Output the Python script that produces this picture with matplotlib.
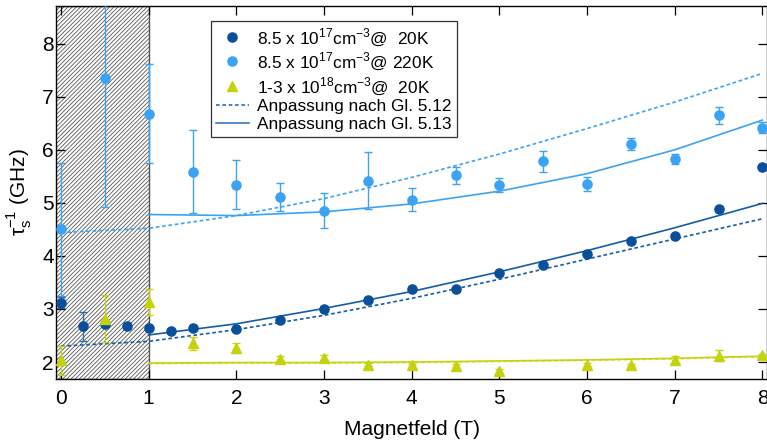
import matplotlib
matplotlib.use("Agg")
import matplotlib.pyplot as plt
from matplotlib.lines import Line2D

plt.rcParams["font.family"] = ["Liberation Sans", "DejaVu Sans"]
plt.rcParams["hatch.linewidth"] = 0.6

# measured data (spin relaxation rate in GHz vs magnetic field in T)
x_20k = [0, 0.25, 0.5, 0.75, 1, 1.25, 1.5, 2, 2.5, 3, 3.5, 4, 4.5, 5, 5.5, 6, 6.5, 7, 7.5, 8]
y_20k = [3.12, 2.67, 2.71, 2.68, 2.64, 2.59, 2.64, 2.63, 2.79, 3.0, 3.17, 3.37, 3.37, 3.68,
         3.82, 4.04, 4.29, 4.38, 4.88, 5.67]
e_20k = [0.11, 0.27, 0.03, 0.03, 0.03, 0.03, 0.03, 0.03, 0.03, 0.03, 0.03, 0.03, 0.03, 0.03,
         0.03, 0.03, 0.03, 0.03, 0.03, 0.03]

x_220k = [0, 0.5, 1, 1.5, 2, 2.5, 3, 3.5, 4, 4.5, 5, 5.5, 6, 6.5, 7, 7.5, 8]
y_220k = [4.5, 7.35, 6.68, 5.59, 5.34, 5.11, 4.85, 5.42, 5.06, 5.52, 5.33, 5.78, 5.36, 6.11,
          5.83, 6.65, 6.42]
e_220k = [1.26, 2.42, 0.93, 0.78, 0.46, 0.27, 0.33, 0.53, 0.22, 0.16, 0.13, 0.2, 0.13, 0.12,
          0.09, 0.16, 0.1]

x_hi = [0, 0.5, 1, 1.5, 2, 2.5, 3, 3.5, 4, 4.5, 5, 6, 6.5, 7, 7.5, 8]
y_hi = [2.03, 2.82, 3.13, 2.35, 2.26, 2.06, 2.08, 1.95, 1.94, 1.93, 1.83, 1.95, 1.94, 2.04,
        2.12, 2.13]
e_hi = [0.27, 0.45, 0.25, 0.13, 0.09, 0.05, 0.05, 0.03, 0.03, 0.03, 0.03, 0.03, 0.03, 0.07,
        0.1, 0.03]

# fit curves
fit512_x = [0, 1, 2, 3, 4, 5, 6, 7, 8]
fit512_20k = [2.3, 2.39, 2.61, 2.88, 3.2, 3.56, 3.94, 4.32, 4.70]
fit512_220k = [4.44, 4.52, 4.76, 5.08, 5.48, 5.92, 6.4, 6.9, 7.44]

fit513_x = [1, 2, 3, 4, 5, 6, 7, 8]
fit513_20k = [2.51, 2.72, 3.01, 3.33, 3.70, 4.10, 4.53, 4.99]
fit513_220k = [4.78, 4.76, 4.83, 4.98, 5.22, 5.55, 6.0, 6.56]
fit513_hi = [1.98, 1.99, 1.99, 2.0, 2.02, 2.04, 2.07, 2.11]
fit512_hi = [1.97, 1.98, 1.98, 1.99, 2.01, 2.03, 2.06, 2.10]

labels = [
    r"8.5 x 10$^{\mathregular{17}}$cm$^{\mathregular{-3}}$@  20K",
    r"8.5 x 10$^{\mathregular{17}}$cm$^{\mathregular{-3}}$@ 220K",
    r"1-3 x 10$^{\mathregular{18}}$cm$^{\mathregular{-3}}$@  20K",
    "Anpassung nach Gl. 5.12",
    "Anpassung nach Gl. 5.13",
]

c_dark = "#0a4f99"
c_dark_line = "#135da8"
c_light = "#3ba3f4"
c_yel = "#c6d20c"
c_yel_dot = "#d6de55"

fig = plt.figure(figsize=(7.67, 4.46), dpi=100)
ax = fig.add_axes([56.5 / 767, 1 - 379 / 446, 710 / 767, 373 / 446])

# hatched region below 1 T
ax.axvspan(-1, 1, facecolor="white", edgecolor="#555555", hatch="/" * 8, lw=1.0, zorder=0.5)

dash = (0, (2.2, 1.6))
ax.plot(fit512_x, fit512_220k, color=c_light, lw=1.2, ls=dash, zorder=2)
ax.plot(fit513_x, fit513_220k, color=c_light, lw=1.2, zorder=2)
ax.plot(fit512_x, fit512_20k, color=c_dark_line, lw=1.2, ls=dash, zorder=2)
ax.plot(fit513_x, fit513_20k, color=c_dark_line, lw=1.2, zorder=2)
ax.plot(fit513_x, fit512_hi, color=c_yel_dot, lw=1.2, ls=dash, zorder=2)
ax.plot(fit513_x, fit513_hi, color=c_yel, lw=1.2, zorder=2)

ax.errorbar(x_220k, y_220k, yerr=e_220k, fmt="o", color=c_light, ms=6.6, elinewidth=1.0,
            capsize=3, capthick=1.0, zorder=3)
ax.errorbar(x_20k, y_20k, yerr=e_20k, fmt="o", color=c_dark, ecolor="#2e6db5", ms=6.6,
            elinewidth=1.0, capsize=3, capthick=1.0, zorder=4)
ax.errorbar(x_hi, y_hi, yerr=e_hi, fmt="^", color=c_yel, ms=7.5, elinewidth=1.0,
            capsize=3, capthick=1.0, zorder=4)

ax.set_xlim(-0.051, 8.046)
ax.set_ylim(1.68, 8.71)
ax.set_xticks(range(0, 9))
ax.set_yticks(range(2, 9))
ax.tick_params(direction="in", length=6.5, width=0.9, labelsize=15, top=True, right=True)
ax.tick_params(axis="x", pad=7)
ax.tick_params(axis="y", pad=2)
for s in ax.spines.values():
    s.set_linewidth(1.0)

ax.set_xlabel("Magnetfeld (T)", fontsize=15, labelpad=9)
ax.set_ylabel(r"τ$_{\mathregular{s}}^{\mathregular{-1}}$ (GHz)", fontsize=15, labelpad=6)

handles = [
    Line2D([], [], ls="none", marker="o", ms=6.6, color=c_dark),
    Line2D([], [], ls="none", marker="o", ms=6.6, color=c_light),
    Line2D([], [], ls="none", marker="^", ms=7.5, color=c_yel),
    Line2D([], [], ls=dash, lw=1.2, color="#2a6cb6"),
    Line2D([], [], lw=1.2, color="#3a78c0"),
]
leg = ax.legend(handles, labels, loc="upper left", bbox_to_anchor=(0.2175, 0.961),
                borderaxespad=0, fontsize=12.4, frameon=True, fancybox=False,
                handlelength=1.9, handletextpad=0.5, labelspacing=0.15, borderpad=0.3)
leg.get_frame().set_edgecolor("black")
leg.get_frame().set_linewidth(0.9)

fig.savefig("out.png", dpi=100)
